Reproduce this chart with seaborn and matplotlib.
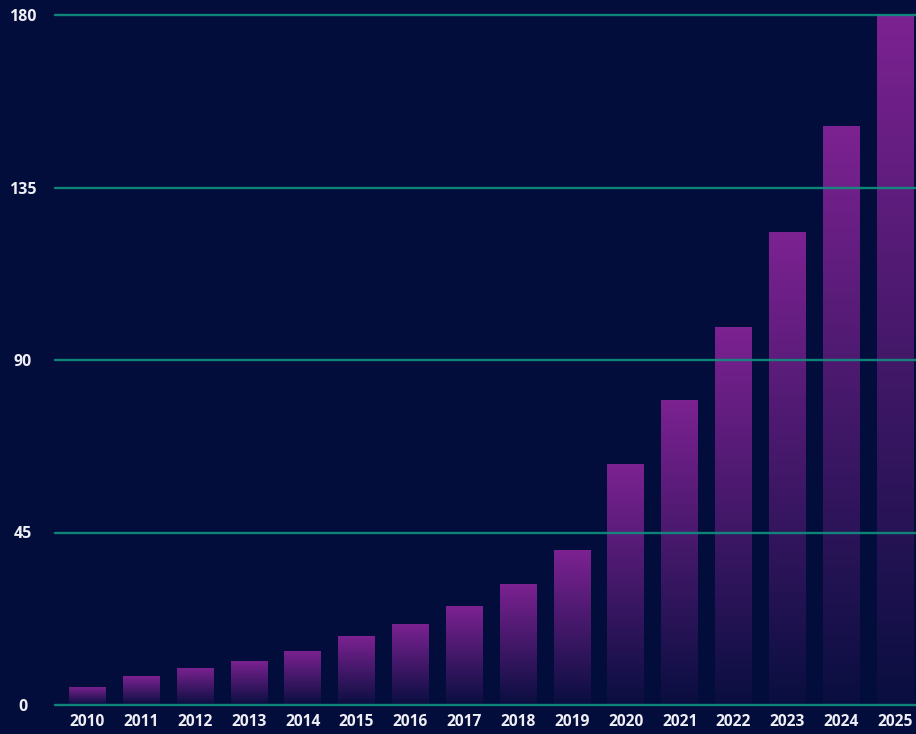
import numpy as np
import pandas as pd
import matplotlib
matplotlib.use("Agg")
import matplotlib.pyplot as plt
import seaborn as sns
from matplotlib.colors import LinearSegmentedColormap

years = ["2010", "2011", "2012", "2013", "2014", "2015", "2016", "2017",
         "2018", "2019", "2020", "2021", "2022", "2023", "2024", "2025"]
values = [4.7, 7.5, 9.7, 11.5, 14.1, 18.0, 21.2, 25.8,
          31.6, 40.4, 62.8, 79.6, 98.6, 123.4, 151.0, 180.0]
yticks = [0, 45, 90, 135, 180]

BG = "#020d3b"
PURPLE = "#7e2392"
GRID = "#10917f"
TEXT = "#eeeef4"

sns.set_theme(style="dark")
plt.rcParams["font.family"] = ["Open Sans", "DejaVu Sans"]

df = pd.DataFrame({"year": years, "value": values})

fig = plt.figure(figsize=(9.16, 7.34), dpi=100, facecolor=BG)
ax = fig.add_axes([55 / 916, 29 / 734, (916 - 55) / 916, 690 / 734])
ax.set_facecolor(BG)

sns.barplot(data=df, x="year", y="value", ax=ax, width=0.68,
            color=PURPLE, saturation=1, zorder=2)

# gradient fill: full purple at top fading toward background at bottom
cmap = LinearSegmentedColormap.from_list(
    "g", [(0.494, 0.137, 0.573, 0.06), (0.494, 0.137, 0.573, 1.0)])
grad = np.linspace(0, 1, 256).reshape(-1, 1)
for p in ax.patches:
    x0, y0 = p.get_x(), p.get_y()
    w, h = p.get_width(), p.get_height()
    p.set_facecolor("none")
    p.set_edgecolor("none")
    im = ax.imshow(grad, cmap=cmap, origin="lower", aspect="auto",
                   extent=[x0, x0 + w, y0, y0 + h], zorder=2,
                   interpolation="bilinear")
    im.set_clip_path(p)

ax.set_xlim(-0.6, 15.39)
ax.set_ylim(0, 180)

for t in yticks:
    ax.axhline(t, color=GRID, lw=1.7, alpha=0.9, zorder=3, clip_on=False)

ax.set_yticks(yticks)
ax.set_yticklabels([str(t) for t in yticks])
ax.tick_params(axis="y", length=0, pad=23, colors=TEXT, labelsize=11.5)
ax.tick_params(axis="x", length=0, pad=6.5, colors=TEXT, labelsize=11.2)
for lab in ax.get_yticklabels():
    lab.set_horizontalalignment("center")
    lab.set_fontweight("bold")
for lab in ax.get_xticklabels():
    lab.set_fontweight("bold")

ax.set_xlabel("")
ax.set_ylabel("")
ax.grid(False)
for s in ax.spines.values():
    s.set_visible(False)

fig.savefig("out.png", dpi=100, facecolor=BG)
